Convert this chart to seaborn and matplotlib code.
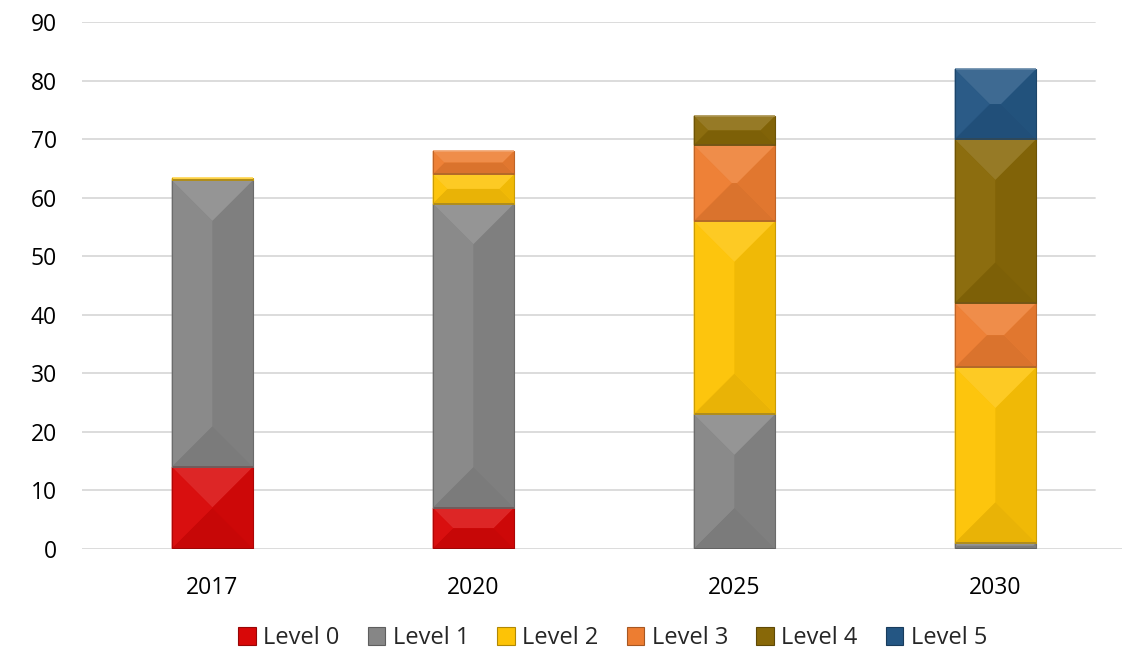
import numpy as np
import pandas as pd
import matplotlib
matplotlib.use("Agg")
import matplotlib.pyplot as plt
from matplotlib.patches import Polygon, Patch
from matplotlib.colors import to_rgb
import seaborn as sns

# Stacked values per year and automation level
years = ["2017", "2020", "2025", "2030"]
levels = ["Level 0", "Level 1", "Level 2", "Level 3", "Level 4", "Level 5"]
level0 = [14, 7, 0, 0]
level1 = [49, 52, 23, 1]
level2 = [0.3, 5, 33, 30]
level3 = [0, 4, 13, 11]
level4 = [0, 0, 5, 28]
level5 = [0, 0, 0, 12]
series = [level0, level1, level2, level3, level4, level5]
colors = ["#d80808", "#868686", "#fdc306", "#ed7d31", "#886808", "#245683"]
y_ticks = np.arange(0, 91, 10)

sns.set_theme(style="white")
plt.rcParams["font.family"] = ["Open Sans", "DejaVu Sans"]

fig = plt.figure(figsize=(11.22, 6.54), dpi=100)
ax = fig.add_axes([0.073, 0.161, 0.9305, 0.805])


def mix(c, other, t):
    c = np.array(to_rgb(c))
    o = np.array(to_rgb(other))
    return tuple(c * (1 - t) + o * t)


def bevel(ax, patch, color):
    """Overlay soft pyramid-style bevel facets on a bar rectangle."""
    x0, y0 = patch.get_x(), patch.get_y()
    w, h = patch.get_width(), patch.get_height()
    if h <= 0:
        return
    (px0, py0), (px1, py1) = ax.transData.transform([(x0, y0), (x0 + w, y0 + h)])
    d = min((px1 - px0) / 2, (py1 - py0) / 2)
    cx_l, cx_r = px0 + d, px1 - d
    cy_b, cy_t = py0 + d, py1 - d
    facets = [
        ([(px0, py1), (px1, py1), (cx_r, cy_t), (cx_l, cy_t)], mix(color, "white", 0.12)),
        ([(px0, py0), (px1, py0), (cx_r, cy_b), (cx_l, cy_b)], mix(color, "black", 0.08)),
        ([(px0, py0), (px0, py1), (cx_l, cy_t), (cx_l, cy_b)], mix(color, "white", 0.03)),
        ([(px1, py0), (px1, py1), (cx_r, cy_t), (cx_r, cy_b)], mix(color, "black", 0.05)),
    ]
    inv = ax.transData.inverted()
    for pts, fc in facets:
        ax.add_patch(Polygon(inv.transform(pts), closed=True, facecolor=fc,
                             edgecolor="none", zorder=3))
    # thin highlight along the top, shadow along the bottom, soft outline
    ax.plot([x0, x0 + w], [y0 + h, y0 + h], color=mix(color, "white", 0.3),
            lw=1.2, zorder=4, solid_capstyle="butt")
    ax.plot([x0, x0 + w], [y0, y0], color=mix(color, "black", 0.3),
            lw=1.2, zorder=4, solid_capstyle="butt")
    for xe in (x0, x0 + w):
        ax.plot([xe, xe], [y0, y0 + h], color=mix(color, "black", 0.2),
                lw=0.8, zorder=4)


ax.set_ylim(0, 90)
ax.set_xlim(-0.5, 3.5)

bottoms = np.zeros(len(years))
drawn = []
for name, vals, col in zip(levels, series, colors):
    df = pd.DataFrame({"year": years, "value": vals})
    n_before = len(ax.patches)
    sns.barplot(data=df, x="year", y="value", color=col, width=0.3126,
                bottom=bottoms.copy(), saturation=1, ax=ax, zorder=2,
                linewidth=0, errorbar=None)
    drawn.append((ax.patches[n_before:], col))
    bottoms = bottoms + np.array(vals)

ax.set_xlim(-0.5, 3.5)
ax.set_ylim(0, 90)
for patches, col in drawn:
    for p in list(patches):
        bevel(ax, p, col)

ax.set_yticks(y_ticks)
# horizontal gridlines stop short of the right edge; the base line runs full width
for yv in y_ticks[1:]:
    ax.axhline(yv, xmin=0, xmax=0.97, color="#d9d9d9", lw=1.3, zorder=0)
ax.axhline(0, color="#d9d9d9", lw=1.3, zorder=1)
for s in ax.spines.values():
    s.set_visible(False)
ax.set_xlabel("")
ax.set_ylabel("")
ax.tick_params(axis="both", length=0, labelsize=16.5, colors="black")
ax.tick_params(axis="y", pad=18)
ax.tick_params(axis="x", pad=20)

handles = [Patch(facecolor=c, edgecolor=mix(c, "black", 0.3), lw=0.8) for c in colors]
fig.legend(handles, levels, loc="center", bbox_to_anchor=(0.546, 0.024),
           ncol=6, frameon=False, fontsize=17, handlelength=0.75, handleheight=0.75,
           handletextpad=0.3, columnspacing=1.2)

fig.savefig("out.png", dpi=100)
